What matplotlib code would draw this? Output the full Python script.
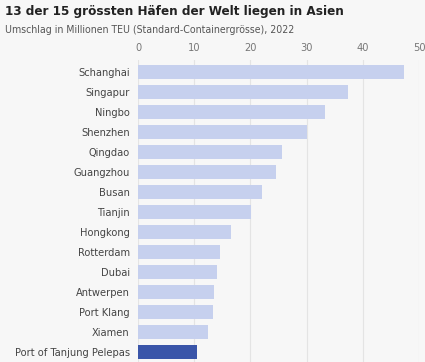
import matplotlib.pyplot as plt
from matplotlib import font_manager
from matplotlib.font_manager import FontProperties

ports = ['Schanghai', 'Singapur', 'Ningbo', 'Shenzhen', 'Qingdao', 'Guangzhou',
         'Busan', 'Tianjin', 'Hongkong', 'Rotterdam', 'Dubai', 'Antwerpen',
         'Port Klang', 'Xiamen', 'Port of Tanjung Pelepas']
teu = [47.3, 37.3, 33.2, 30.1, 25.6, 24.5, 22.0, 20.1, 16.5, 14.6, 14.0, 13.5,
       13.3, 12.4, 10.5]
highlight = 'Port of Tanjung Pelepas'
ticks = [0, 10, 20, 30, 40, 50]

# look for a narrow face, the reference uses a condensed sans
reg, bold = None, None
for f in font_manager.fontManager.ttflist:
    narrow = ('Condensed' in f.name or 'Narrow' in f.name
              or f.stretch in ('condensed', 'semi-condensed'))
    if not narrow or 'italic' in f.style.lower() or 'oblique' in f.style.lower():
        continue
    w = f.weight if isinstance(f.weight, int) else 400
    if w == 400 and reg is None:
        reg = f.fname
    if w >= 700 and bold is None:
        bold = f.fname

if reg:
    fp = lambda size: FontProperties(fname=reg, size=size)
    fpb = lambda size: FontProperties(fname=bold or reg, size=size)
else:
    fp = lambda size: FontProperties(family='Roboto', size=size)
    fpb = lambda size: FontProperties(family='Roboto', weight='bold', size=size)

bg = '#f7f7f7'
fig = plt.figure(figsize=(4.25, 3.62), dpi=100, facecolor=bg)
ax = fig.add_axes([138 / 425, 0.0, 281 / 425, 302 / 362], facecolor=bg)

colors = ['#3a55a9' if p == highlight else '#c6d0ee' for p in ports]
y = list(range(len(ports)))
ax.barh(y, teu, height=0.7, color=colors, zorder=2)
ax.set_ylim(14.5, -0.6)
ax.set_xlim(0, 50)
ax.set_xticks(ticks)
ax.xaxis.tick_top()
ax.tick_params(axis='x', length=0, pad=5, labelcolor='#777777')
ax.tick_params(axis='y', length=0, pad=6, labelcolor='#444444')
ax.set_yticks(y)
ax.set_yticklabels(ports)
for t in ax.get_xticklabels() + ax.get_yticklabels():
    t.set_fontproperties(fp(7.9))
ax.grid(axis='x', color='#e4e4e4', linewidth=0.8, zorder=0)
for s in ax.spines.values():
    s.set_visible(False)

fig.text(5 / 425, 1 - 12 / 362, '13 der 15 grössten Häfen der Welt liegen in Asien',
         fontproperties=fpb(9.6), color='#222222', va='center')
fig.text(5 / 425, 1 - 30 / 362, 'Umschlag in Millionen TEU (Standard-Containergrösse), 2022',
         fontproperties=fp(7.6), color='#555555', va='center')

fig.savefig('out.png', dpi=100, facecolor=bg)
